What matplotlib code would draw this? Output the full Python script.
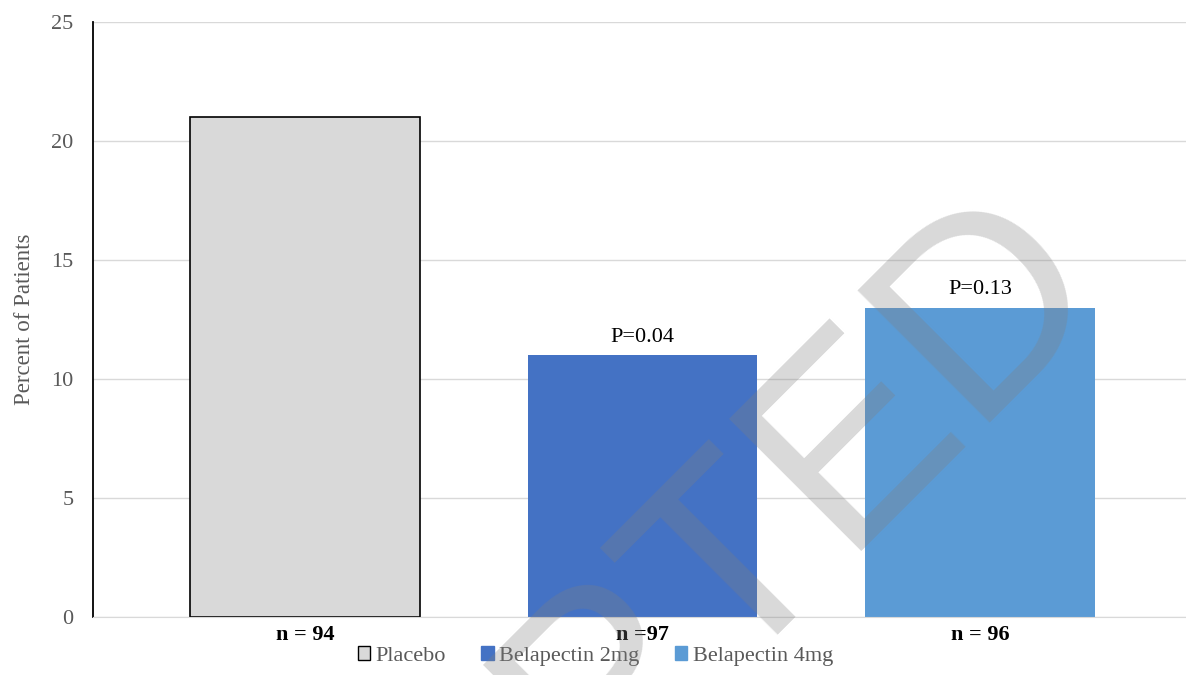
import matplotlib
matplotlib.use("Agg")
import matplotlib.pyplot as plt
from matplotlib.patches import Patch

groups = ["Placebo", "Belapectin 2mg", "Belapectin 4mg"]
percent = [21, 11, 13]
n_labels = ["n = 94", "n =97", "n = 96"]
p_labels = [None, "P=0.04", "P=0.13"]
colors = ["#d9d9d9", "#4472c4", "#5b9bd5"]
edges = ["black", "none", "none"]

plt.rcParams["font.family"] = ["Liberation Serif", "DejaVu Serif"]

fig = plt.figure(figsize=(11.86, 6.75), dpi=100)
ax = fig.add_axes([0.0784, 0.0859, 0.9216, 0.8815])

x = range(len(groups))
bars = ax.bar(x, percent, width=0.68, color=colors, edgecolor=edges,
              linewidth=1.2, zorder=2)

for b, p in zip(bars, p_labels):
    if p:
        ax.text(b.get_x() + b.get_width() / 2, b.get_height() + 0.35, p,
                ha="center", va="bottom", fontsize=16, color="black")

ax.set_xlim(-0.628, 2.61)
ax.set_ylim(0, 25)
ax.set_yticks(range(0, 26, 5))
ax.set_xticks(list(x))
ax.set_xticklabels(n_labels, fontsize=16, fontweight="bold")
ax.tick_params(axis="x", length=0, pad=6)
ax.tick_params(axis="y", length=0, pad=14, labelsize=16, labelcolor="#595959")
ax.set_ylabel("Percent of Patients", fontsize=16.5, color="#595959", labelpad=12)

ax.grid(axis="y", color="#d9d9d9", linewidth=1, zorder=0)
for s in ["top", "right"]:
    ax.spines[s].set_visible(False)
ax.spines["bottom"].set_color("#d9d9d9")
ax.spines["left"].set_color("black")
ax.spines["left"].set_linewidth(1.3)

handles = [Patch(facecolor=c, edgecolor=("black" if e == "black" else c))
           for c, e in zip(colors, edges)]
fig.legend(handles, groups, loc="center", bbox_to_anchor=(0.502, 0.028),
           ncol=3, frameon=False, fontsize=16, labelcolor="#595959",
           handlelength=0.55, handleheight=0.55, handletextpad=0.25,
           columnspacing=1.6, borderpad=0)

# watermark
fig.text(1114 / 1186, 1 - 298 / 675, "ACCEPTED", rotation=45,
         rotation_mode="anchor", ha="right", va="baseline",
         fontsize=196, family=["Liberation Sans", "DejaVu Sans"],
         color="#808080", alpha=0.3, zorder=10)

fig.savefig("out.png", dpi=100)
